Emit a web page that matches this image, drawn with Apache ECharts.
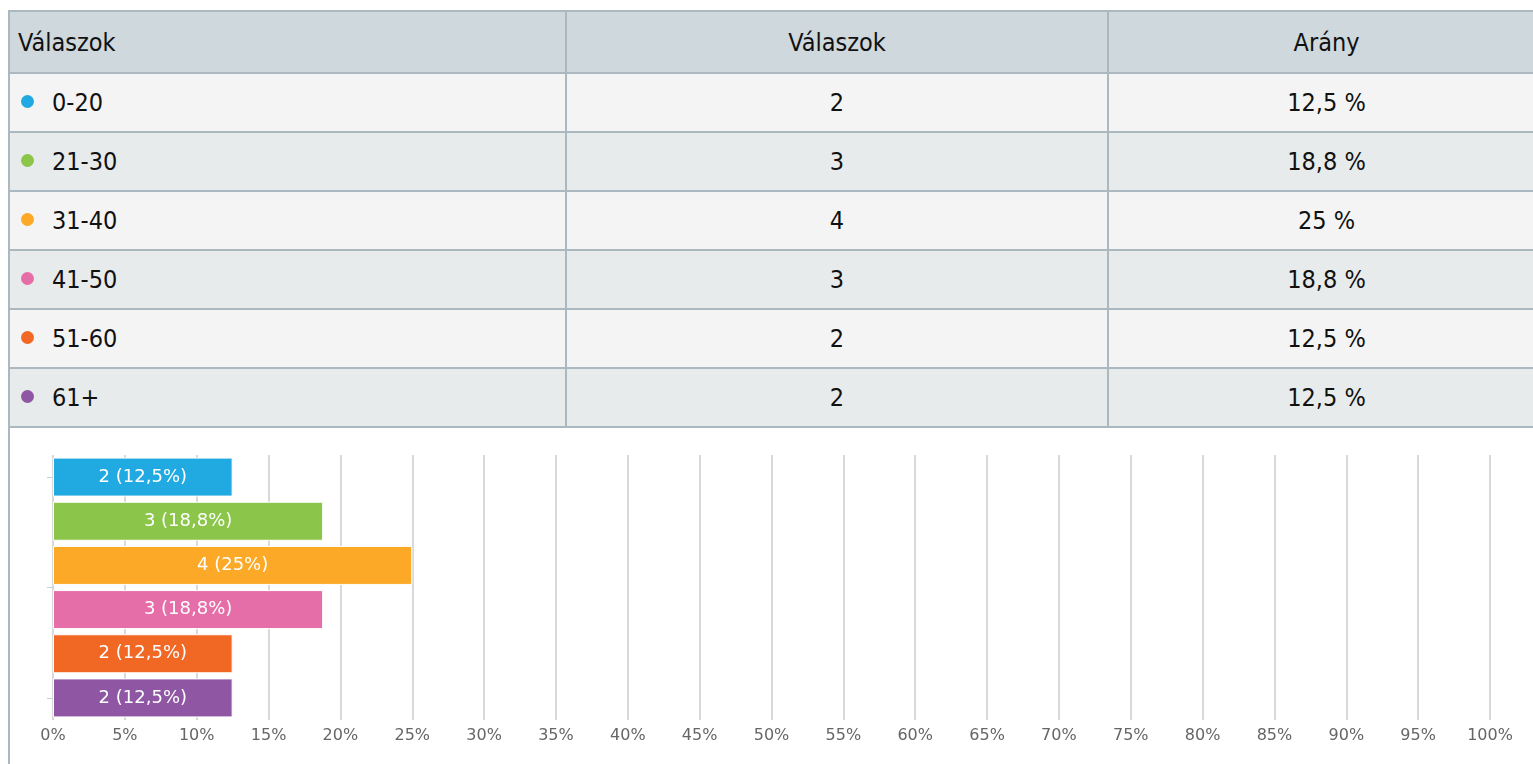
<!DOCTYPE html>
<html>
<head>
<meta charset="utf-8">
<script src="https://cdn.jsdelivr.net/npm/echarts@6/dist/echarts.min.js"></script>
<style>
    html, body {
        margin: 0;
        padding: 0;
        width: 1533px;
        height: 764px;
        overflow: hidden;
        background: #ffffff;
    }
    .results-table {
        position: absolute;
        left: 8px;
        top: 10px;
        width: 1536px;
        border-collapse: collapse;
        table-layout: fixed;
        font-family: "Liberation Sans Narrow", "DejaVu Sans Condensed", sans-serif;
        font-size: 25px;
        color: #111111;
    }
    .results-table td, .results-table th {
        border: 2px solid #abb8bf;
        font-weight: normal;
        padding: 0 8px;
        text-align: center;
        height: 57px;
    }
    .results-table th {
        background: #cfd8dc;
        height: 60px;
    }
    .results-table .first {
        text-align: left;
    }
    .results-table tr.odd td { background: #f4f4f4; }
    .results-table tr.even td { background: #e8ebec; }
    .dot {
        display: inline-block;
        width: 13px;
        height: 13px;
        border-radius: 50%;
        margin: 0 18px 0 3px;
        vertical-align: 3px;
    }
    .chart-wrap {
        position: absolute;
        left: 8px;
        top: 428px;
        width: 1525px;
        height: 340px;
        border-left: 2px solid #abb8bf;
    }
    #age-chart {
        width: 1525px;
        height: 336px;
    }
</style>
</head>
<body>
<table class="results-table" id="results-table">
    <colgroup>
        <col style="width: 557px">
        <col style="width: 542px">
        <col style="width: 437px">
    </colgroup>
    <thead>
    <tr><th class="first">Válaszok</th><th>Válaszok</th><th>Arány</th></tr>
    </thead>
    <tbody></tbody>
</table>
<div class="chart-wrap"><div id="age-chart"></div></div>
<script>
    const categories = ['0-20', '21-30', '31-40', '41-50', '51-60', '61+'];
    const counts = [2, 3, 4, 3, 2, 2];
    const percents = [12.5, 18.8, 25, 18.8, 12.5, 12.5];
    const colors = ['#21a9e1', '#8bc54a', '#fba926', '#e66ea8', '#f16724', '#8e56a3'];
    const xTicks = [0, 5, 10, 15, 20, 25, 30, 35, 40, 45, 50, 55, 60, 65, 70, 75, 80, 85, 90, 95, 100];

    const fmt = (v) => String(v).replace('.', ',');

    // table rows
    const tbody = document.querySelector('#results-table tbody');
    categories.forEach((cat, i) => {
        const tr = document.createElement('tr');
        tr.className = i % 2 === 0 ? 'odd' : 'even';
        tr.innerHTML =
            '<td class="first"><span class="dot" style="background:' + colors[i] + '"></span>' + cat + '</td>' +
            '<td>' + counts[i] + '</td>' +
            '<td>' + fmt(percents[i]) + ' %</td>';
        tbody.appendChild(tr);
    });

    const chartBox = document.getElementById('age-chart');
    const ageChart = echarts.init(chartBox);
    const options = {
        animation: false,
        grid: {
            left: 43,
            width: 1437,
            top: 27,
            height: 265,
            containLabel: false,
        },
        xAxis: {
            type: 'value',
            min: xTicks[0],
            max: xTicks[xTicks.length - 1],
            interval: 5,
            axisLine: {show: false},
            axisTick: {show: false},
            axisLabel: {
                formatter: '{value}%',
                color: '#666666',
                fontSize: 16,
                fontFamily: 'DejaVu Sans',
                margin: 8,
            },
            splitLine: {
                show: true,
                lineStyle: {color: '#cccccc', width: 1.5},
            },
        },
        yAxis: [
            {
                type: 'category',
                data: categories,
                inverse: true,
                axisLine: {show: false},
                axisTick: {show: false},
                axisLabel: {show: false},
            },
            {
                type: 'value',
                min: 0,
                max: 6,
                inverse: true,
                position: 'left',
                axisLine: {show: false},
                axisLabel: {show: false},
                splitLine: {show: false},
                axisTick: {
                    show: true,
                    length: 6,
                    customValues: [0.5, 3, 5.5],
                    lineStyle: {color: '#c0d0e0', width: 1},
                },
            },
        ],
        series: [{
            type: 'bar',
            yAxisIndex: 0,
            barWidth: 39,
            data: percents.map((p, i) => ({
                value: p,
                itemStyle: {color: colors[i]},
            })),
            itemStyle: {
                borderColor: '#ffffff',
                borderWidth: 1,
            },
            label: {
                show: true,
                position: 'inside',
                color: '#ffffff',
                fontSize: 18,
                fontFamily: 'DejaVu Sans',
                formatter: (p) => counts[p.dataIndex] + ' (' + fmt(percents[p.dataIndex]) + '%)',
            },
        }],
    };
    ageChart.setOption(options);
</script>
</body>
</html>
